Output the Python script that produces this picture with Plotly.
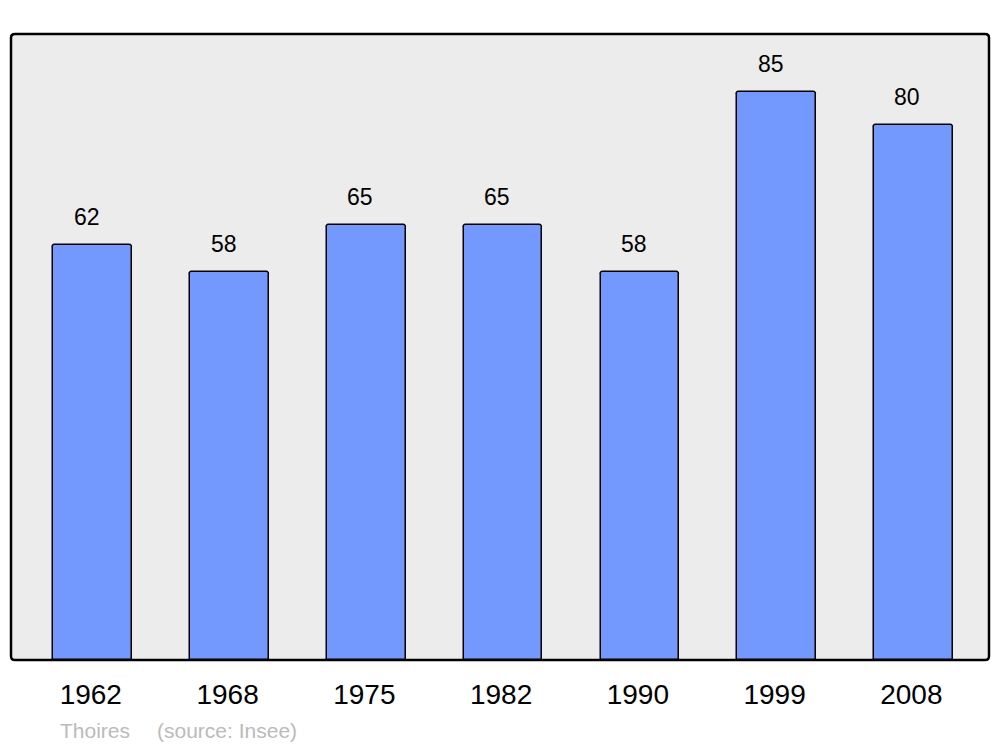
import plotly.graph_objects as go

years = ["1962", "1968", "1975", "1982", "1990", "1999", "2008"]
population = [62, 58, 65, 65, 58, 85, 80]
commune = "Thoires"
source = "(source: Insee)"

positions = list(range(len(years)))

fig = go.Figure()
fig.add_trace(go.Bar(
    x=positions,
    y=population,
    width=0.575,
    marker=dict(color="#7399ff", line=dict(color="black", width=1.5), cornerradius=3),
    hovertext=years,
    hoverinfo="text+y",
))

for pos, value in zip(positions, population):
    fig.add_annotation(
        x=pos, y=value, xref="x", yref="y", text=str(value), showarrow=False,
        yanchor="bottom", yshift=13, xshift=-6,
        font=dict(size=23, color="black"),
    )

fig.add_annotation(x=0.048, y=-0.112, xref="paper", yref="paper", text=commune,
                   showarrow=False, xanchor="left", yanchor="middle",
                   font=dict(size=21, color="#bbbbbb"))
fig.add_annotation(x=0.147, y=-0.112, xref="paper", yref="paper", text=source,
                   showarrow=False, xanchor="left", yanchor="middle",
                   font=dict(size=21, color="#bbbbbb"))

# rounded frame around the plot area
fig.add_shape(
    type="path", xref="paper", yref="paper",
    path="M 0.004,0 L 0.996,0 Q 1,0 1,0.006 L 1,0.994 Q 1,1 0.996,1 "
         "L 0.004,1 Q 0,1 0,0.994 L 0,0.006 Q 0,0 0.004,0 Z",
    line=dict(color="black", width=2.5),
    fillcolor="#ececec",
    layer="below",
)

fig.update_layout(
    width=1000, height=747,
    margin=dict(l=11, r=11, t=34, b=87),
    paper_bgcolor="white",
    plot_bgcolor="rgba(0,0,0,0)",
    font=dict(family="Liberation Sans, Arial, sans-serif", color="black"),
    showlegend=False,
    bargap=0,
)
fig.update_xaxes(
    range=[-0.598, 6.553],
    tickvals=positions, ticktext=years,
    showgrid=False, zeroline=False, showline=False,
    ticks="outside", ticklen=9, tickcolor="rgba(0,0,0,0)",
    ticklabelshift=-2,
    tickfont=dict(size=28),
)
fig.update_yaxes(range=[0, 93.6], visible=False, fixedrange=True)

fig.write_html("out.html", config={"displayModeBar": False},
               post_script="document.body.style.margin='0';")
